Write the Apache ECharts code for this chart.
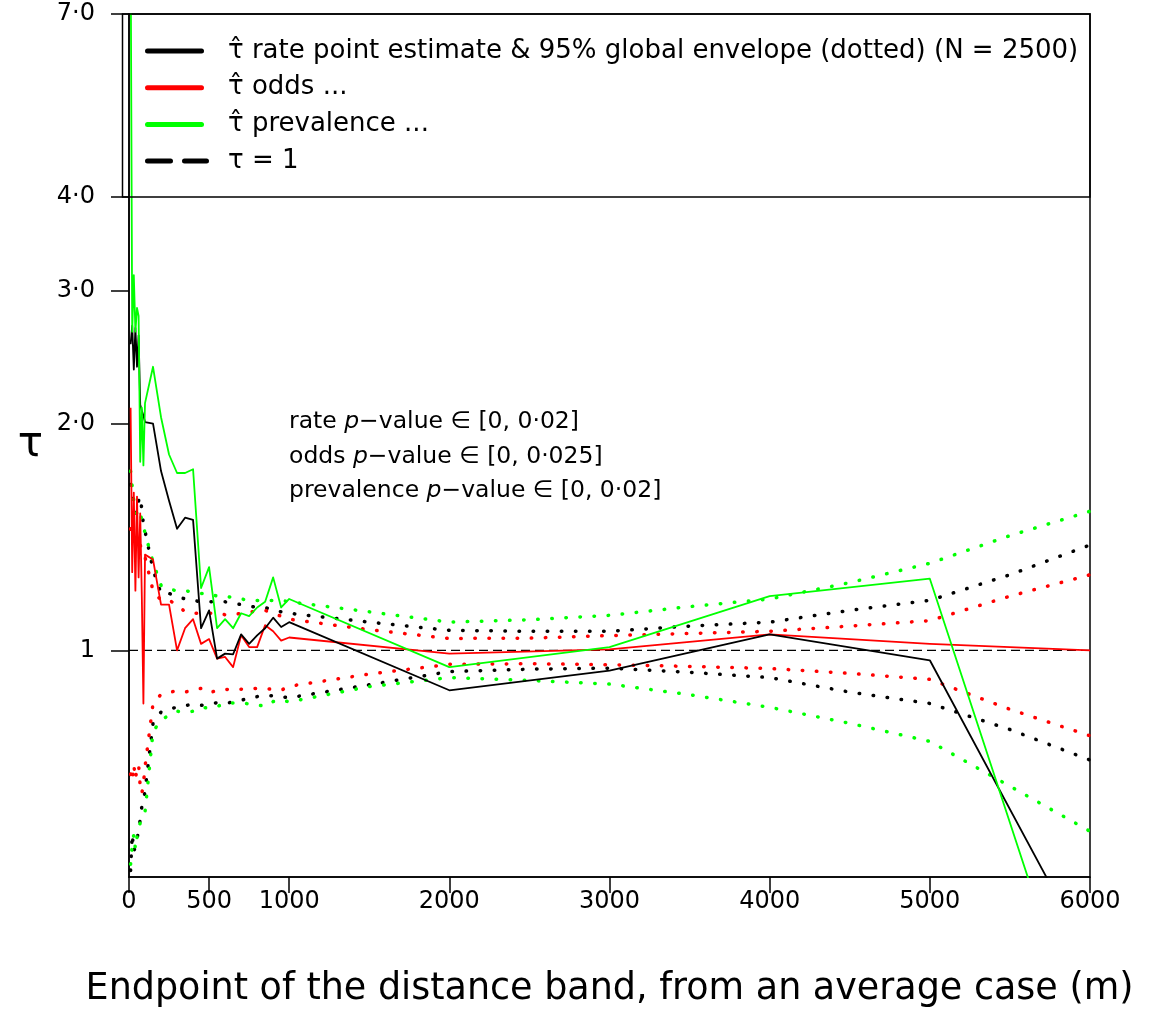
<!DOCTYPE html>
<html>
<head>
<meta charset="utf-8">
<title>Distance-band estimates</title>
<script src="https://cdn.jsdelivr.net/npm/echarts@6/dist/echarts.min.js"></script>
<style>
  html, body { margin: 0; padding: 0; background: #ffffff; }
  #chart { width: 1155px; height: 1016px; }
</style>
</head>
<body>
<div id="chart"></div>
<script>
// Band endpoints (m) for the point estimates
const estDistance = [10, 20, 30, 40, 50, 60, 70, 80, 90, 100,
  150, 200, 250, 300, 350, 400, 450, 500, 550, 600, 650, 700, 750, 800, 850, 900, 950, 1000,
  2000, 3000, 4000, 5000, 6000];

// Point estimates of tau
const rateEst = [2.55, 2.70, 2.36, 2.68, 2.38, 2.62, 2.12, 2.08, 2.05, 2.01,
  2.00, 1.73, 1.58, 1.45, 1.50, 1.49, 1.07, 1.13, 0.975, 0.99, 0.988, 1.05, 1.02, 1.047, 1.07, 1.105, 1.074, 1.09,
  0.885, 0.94, 1.05, 0.97, 0.39];
const oddsEst = [2.10, 1.27, 1.62, 1.20, 1.60, 1.25, 1.52, 1.18, 0.85, 1.34,
  1.32, 1.15, 1.15, 1.00, 1.07, 1.10, 1.02, 1.035, 0.975, 0.98, 0.95, 1.047, 1.01, 1.01, 1.08, 1.06, 1.03, 1.04,
  0.99, 1.003, 1.05, 1.02, 1.00];
const prevEst = [9.0, 2.65, 3.15, 2.65, 2.85, 2.78, 1.78, 2.10, 1.76, 2.13,
  2.38, 2.04, 1.82, 1.72, 1.72, 1.74, 1.21, 1.29, 1.07, 1.10, 1.07, 1.12, 1.11, 1.14, 1.16, 1.25, 1.14, 1.17,
  0.95, 1.01, 1.18, 1.245, 0.28];

// Band endpoints (m) for the global envelopes
const envDistance = [10, 20, 30, 40, 50, 60, 70, 80, 90, 100,
  150, 200, 250, 300, 350, 400, 450, 500, 550, 600, 650, 700, 750, 800, 850, 900, 950, 1000,
  1500, 2000, 2500, 3000, 3500, 4000, 4500, 5000, 5500, 6000];

// 95% global envelopes (upper / lower)
const rateHi = [1.66, 1.61, 1.56, 1.52, 1.53, 1.58, 1.60, 1.54, 1.47, 1.44,
  1.28, 1.19, 1.19, 1.18, 1.17, 1.165, 1.16, 1.16, 1.16, 1.16, 1.155, 1.15, 1.145, 1.14, 1.14, 1.13, 1.125, 1.12,
  1.09, 1.063, 1.06, 1.06, 1.077, 1.09, 1.13, 1.165, 1.26, 1.38];
const rateLo = [0.51, 0.57, 0.54, 0.55, 0.56, 0.58, 0.595, 0.62, 0.63, 0.65,
  0.80, 0.828, 0.836, 0.84, 0.845, 0.847, 0.845, 0.848, 0.852, 0.85, 0.854, 0.858, 0.865, 0.868, 0.871, 0.87, 0.868, 0.865,
  0.90, 0.937, 0.944, 0.947, 0.935, 0.92, 0.88, 0.85, 0.785, 0.715];
const oddsHi = [1.45, 1.42, 1.40, 1.41, 1.38, 1.37, 1.38, 1.36, 1.35, 1.33,
  1.20, 1.165, 1.165, 1.15, 1.125, 1.12, 1.12, 1.12, 1.12, 1.115, 1.115, 1.12, 1.125, 1.125, 1.13, 1.12, 1.11, 1.10,
  1.065, 1.037, 1.038, 1.046, 1.053, 1.06, 1.077, 1.095, 1.18, 1.26];
const oddsLo = [0.685, 0.67, 0.705, 0.675, 0.695, 0.705, 0.66, 0.645, 0.665, 0.70,
  0.85, 0.874, 0.88, 0.883, 0.88, 0.886, 0.89, 0.878, 0.885, 0.887, 0.888, 0.888, 0.889, 0.89, 0.89, 0.887, 0.885, 0.896,
  0.93, 0.958, 0.96, 0.957, 0.952, 0.946, 0.932, 0.915, 0.835, 0.77];
const prevHi = [1.73, 1.65, 1.58, 1.56, 1.51, 1.50, 1.52, 1.49, 1.47, 1.43,
  1.31, 1.22, 1.205, 1.20, 1.20, 1.195, 1.19, 1.19, 1.18, 1.18, 1.175, 1.17, 1.165, 1.165, 1.165, 1.165, 1.165, 1.16,
  1.125, 1.09, 1.098, 1.113, 1.143, 1.17, 1.23, 1.305, 1.42, 1.53];
const prevLo = [0.52, 0.55, 0.57, 0.545, 0.565, 0.58, 0.59, 0.60, 0.605, 0.61,
  0.78, 0.808, 0.82, 0.83, 0.828, 0.83, 0.84, 0.838, 0.842, 0.851, 0.851, 0.851, 0.849, 0.847, 0.842, 0.855, 0.86, 0.854,
  0.895, 0.92, 0.912, 0.902, 0.873, 0.84, 0.80, 0.757, 0.66, 0.575];

// Reference line tau = 1
const refDistance = [0, 6000];
const refValue = [1, 1];

// Axis ticks
const xTickValues = [0, 500, 1000, 2000, 3000, 4000, 5000, 6000];
const xTickLabels = ['0', '500', '1000', '2000', '3000', '4000', '5000', '6000'];
const yTickValues = [1, 2, 3, 4, 7];
const yTickLabels = ['1', '2·0', '3·0', '4·0', '7·0'];

// Legend entries
const legendNames = [
  'τ̂ rate point estimate & 95% global envelope (dotted) (N = 2500)',
  'τ̂ odds ...',
  'τ̂ prevalence ...',
  'τ = 1'
];

const FONT = 'DejaVu Sans';
const BLACK = '#000000';
const RED = '#ff0000';
const GREEN = '#00ff00';
const legendColors = [BLACK, RED, GREEN, BLACK];
const legendDashes = [null, null, null, [23, 14]];

const zip = (xs, ys) => xs.map((x, i) => [x, ys[i]]);

function nearestLabel(values, labels, v) {
  let best = 0;
  for (let i = 1; i < values.length; i++) {
    if (Math.abs(values[i] - v) < Math.abs(values[best] - v)) best = i;
  }
  return labels[best];
}

function solidLine(name, color, xs, ys) {
  return {
    name, type: 'line', data: zip(xs, ys), symbol: 'none', clip: true,
    lineStyle: { color, width: 1.8, join: 'round' },
    itemStyle: { color }, z: 3
  };
}

function dottedLine(name, color, xs, ys) {
  return {
    name, type: 'line', data: zip(xs, ys), symbol: 'none', clip: true,
    lineStyle: { color, width: 3.5, type: [0.5, 13.6], cap: 'round' },
    itemStyle: { color }, z: 2
  };
}

// Legend drawn as a boxed key in the upper part of the panel
const legendTop = 51;
const legendPitch = 36.7;
const legendGraphics = [{
  type: 'rect', silent: true, z: 10,
  shape: { x: 122.5, y: 14, width: 967.5, height: 183 },
  style: { fill: 'none', stroke: BLACK, lineWidth: 1.5 }
}];
legendNames.forEach((label, i) => {
  const y = legendTop + i * legendPitch;
  const dash = legendDashes[i];
  legendGraphics.push({
    type: 'line', silent: true, z: 10,
    shape: { x1: 147.5, y1: y, x2: dash ? 206.5 : 201.5, y2: y },
    style: { stroke: legendColors[i], lineWidth: 5, lineCap: 'round', lineDash: dash || null }
  });
  legendGraphics.push({
    type: 'text', silent: true, z: 10, x: 228, y: y,
    style: { text: label, font: '26px "DejaVu Sans"', fill: BLACK, verticalAlign: 'middle', align: 'left' }
  });
});

const chart = echarts.init(document.getElementById('chart'), null, { renderer: 'canvas' });

chart.setOption({
  animation: false,
  backgroundColor: '#ffffff',
  textStyle: { fontFamily: FONT, color: BLACK },
  grid: {
    left: 129, right: 65, top: 14, bottom: 139,
    show: true, borderColor: BLACK, borderWidth: 1.5, backgroundColor: 'transparent',
    containLabel: false, outerBoundsMode: 'none'
  },
  xAxis: {
    type: 'value', min: 0, max: 6000,
    name: 'Endpoint of the distance band, from an average case (m)',
    nameLocation: 'middle', nameGap: 94,
    nameTextStyle: { fontSize: 36.5, fontFamily: FONT, color: BLACK },
    axisLine: { show: true, onZero: false, lineStyle: { color: BLACK, width: 1.5 } },
    axisTick: { show: true, length: 16, customValues: xTickValues, lineStyle: { color: BLACK, width: 1.5 } },
    axisLabel: {
      customValues: xTickValues, margin: 13, fontSize: 24, fontFamily: FONT, color: BLACK,
      formatter: v => nearestLabel(xTickValues, xTickLabels, v)
    },
    splitLine: { show: false }
  },
  yAxis: {
    type: 'log', logBase: 10, min: 0.5, max: 7,
    name: 'τ', nameLocation: 'middle', nameRotate: 0, nameGap: 86,
    nameTextStyle: { fontSize: 42, fontFamily: FONT, color: BLACK },
    axisLine: { show: true, lineStyle: { color: BLACK, width: 1.5 } },
    axisTick: { show: true, length: 18, customValues: yTickValues, lineStyle: { color: BLACK, width: 1.5 } },
    axisLabel: {
      customValues: yTickValues, margin: 34, fontSize: 24, fontFamily: FONT, color: BLACK,
      formatter: v => nearestLabel(yTickValues, yTickLabels, v)
    },
    splitLine: { show: false },
    minorTick: { show: false }
  },
  graphic: legendGraphics.concat([
    {
      type: 'text', silent: true, z: 10, left: 289, top: 405,
      style: {
        text: 'rate {i|p}−value ∈ [0, 0·02]\nodds {i|p}−value ∈ [0, 0·025]\nprevalence {i|p}−value ∈ [0, 0·02]',
        font: '23.5px "DejaVu Sans"', fill: BLACK, lineHeight: 34.5,
        rich: { i: { fontStyle: 'italic', fontSize: 23.5, fontFamily: FONT, lineHeight: 34.5 } }
      }
    }
  ]),
  series: [
    dottedLine('rate envelope (upper)', BLACK, envDistance, rateHi),
    dottedLine('rate envelope (lower)', BLACK, envDistance, rateLo),
    dottedLine('odds envelope (upper)', RED, envDistance, oddsHi),
    dottedLine('odds envelope (lower)', RED, envDistance, oddsLo),
    dottedLine('prevalence envelope (upper)', GREEN, envDistance, prevHi),
    dottedLine('prevalence envelope (lower)', GREEN, envDistance, prevLo),
    {
      name: legendNames[3], type: 'line', data: zip(refDistance, refValue), symbol: 'none',
      lineStyle: { color: BLACK, width: 1.3, type: [9, 5] }, itemStyle: { color: BLACK }, z: 2
    },
    solidLine(legendNames[1], RED, estDistance, oddsEst),
    solidLine(legendNames[0], BLACK, estDistance, rateEst),
    solidLine(legendNames[2], GREEN, estDistance, prevEst)
  ]
});
</script>
</body>
</html>
